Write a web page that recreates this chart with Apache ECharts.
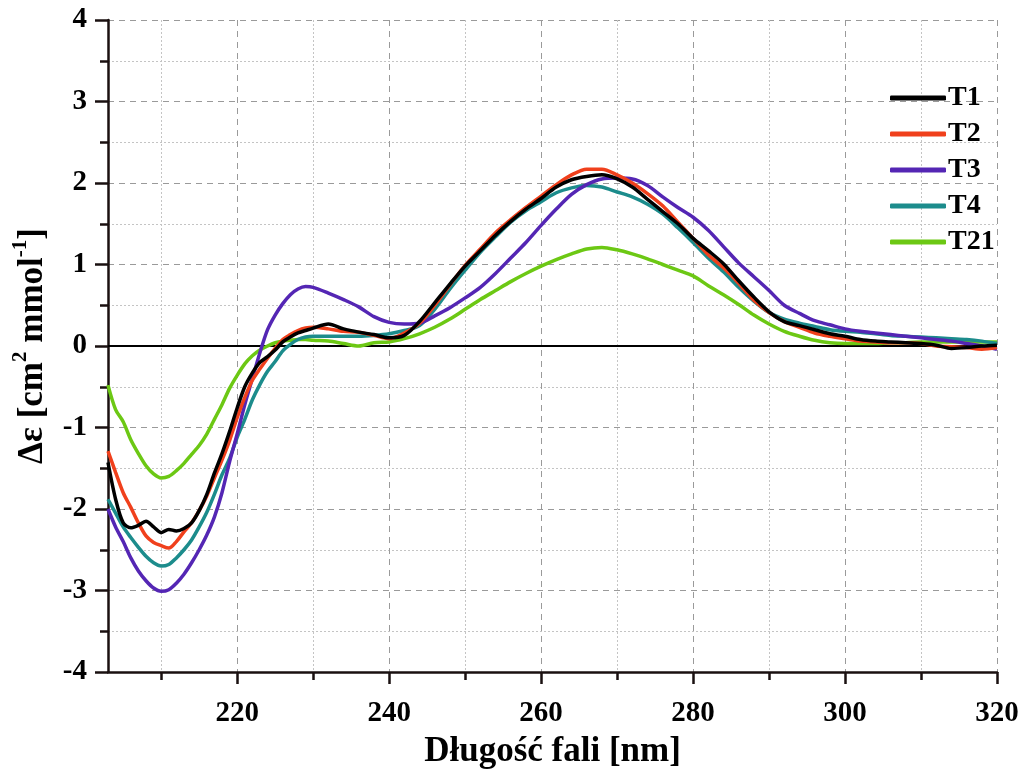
<!DOCTYPE html>
<html>
<head>
<meta charset="utf-8">
<script src="https://cdn.jsdelivr.net/npm/echarts@6/dist/echarts.min.js"></script>
<style>
html,body{margin:0;padding:0;background:#fff;}
#chart{width:1024px;height:769px;}
</style>
</head>
<body>
<div id="chart"></div>
<script>
var wavelength = [203,204,205,206,207,208,209,210,211,212,213,214,215,216,217,218,219,220,221,222,223,224,225,226,227,228,229,
    230,232,234,236,238,240,242,244,246,248,250,252,254,256,258,260,262,264,266,268,270,272,274,276,278,280,
    282,284,286,288,290,292,294,296,298,300,302,304,306,308,310,312,314,316,318,320];

var t1 = [-1.43,-1.88,-2.17,-2.23,-2.2,-2.15,-2.22,-2.29,-2.25,-2.27,-2.24,-2.17,-2.02,-1.82,-1.56,-1.32,-1.05,-0.76,-0.5,-0.33,-0.2,-0.13,-0.05,
    0.05,0.11,0.16,0.19,0.22,0.27,0.21,0.17,0.14,0.1,0.13,0.3,0.53,0.76,0.98,1.17,1.36,1.53,1.68,1.81,1.95,2.04,2.08,2.1,2.05,1.95,1.8,1.65,1.5,1.32,
    1.17,1.01,0.8,0.6,0.42,0.3,0.25,0.2,0.15,0.12,0.08,0.06,0.05,0.04,0.03,0.01,-0.03,-0.02,0.0,0.01];
var t2 = [-1.29,-1.55,-1.8,-1.98,-2.17,-2.33,-2.41,-2.45,-2.48,-2.4,-2.28,-2.17,-2.02,-1.84,-1.62,-1.4,-1.16,-0.88,-0.63,-0.42,-0.28,-0.15,-0.03,
    0.08,0.14,0.19,0.22,0.23,0.21,0.18,0.17,0.13,0.09,0.16,0.28,0.5,0.75,0.99,1.19,1.39,1.55,1.7,1.84,1.98,2.1,2.17,2.17,2.1,2.0,1.87,1.72,1.52,1.32,
    1.12,0.96,0.77,0.56,0.41,0.3,0.23,0.16,0.12,0.09,0.06,0.05,0.04,0.04,0.03,0.0,-0.01,-0.02,-0.04,-0.02];
var t3 = [-2.0,-2.22,-2.4,-2.6,-2.76,-2.88,-2.97,-3.01,-2.99,-2.91,-2.8,-2.66,-2.5,-2.32,-2.1,-1.8,-1.42,-1.08,-0.72,-0.4,-0.08,0.2,0.38,
    0.52,0.63,0.7,0.73,0.72,0.65,0.57,0.48,0.36,0.29,0.27,0.28,0.37,0.47,0.59,0.72,0.89,1.08,1.27,1.48,1.68,1.86,1.98,2.05,2.06,2.05,1.97,1.83,1.7,1.58,
    1.42,1.22,1.02,0.85,0.68,0.5,0.4,0.31,0.26,0.21,0.18,0.16,0.14,0.12,0.1,0.08,0.06,0.03,0.0,-0.04];
var t4 = [-1.88,-2.05,-2.22,-2.35,-2.47,-2.58,-2.66,-2.7,-2.68,-2.6,-2.5,-2.38,-2.22,-2.04,-1.82,-1.58,-1.38,-1.12,-0.9,-0.66,-0.47,-0.31,-0.19,
    -0.06,0.02,0.08,0.11,0.12,0.12,0.12,0.12,0.13,0.15,0.19,0.25,0.45,0.7,0.93,1.15,1.34,1.52,1.66,1.77,1.88,1.94,1.97,1.95,1.89,1.83,1.74,1.62,1.45,1.27,
    1.08,0.91,0.72,0.55,0.41,0.33,0.28,0.24,0.2,0.18,0.17,0.15,0.13,0.12,0.11,0.1,0.09,0.08,0.06,0.03];
var t21 = [-0.48,-0.78,-0.93,-1.15,-1.32,-1.47,-1.57,-1.62,-1.6,-1.53,-1.44,-1.33,-1.22,-1.08,-0.9,-0.72,-0.52,-0.36,-0.22,-0.12,-0.05,0.0,0.04,
    0.06,0.07,0.08,0.08,0.07,0.06,0.03,0.0,0.04,0.05,0.09,0.15,0.23,0.33,0.45,0.57,0.68,0.79,0.89,0.98,1.06,1.13,1.19,1.21,1.18,1.13,1.07,1.0,0.93,0.86,
    0.74,0.63,0.51,0.38,0.27,0.18,0.12,0.07,0.04,0.03,0.03,0.03,0.04,0.04,0.05,0.05,0.05,0.05,0.05,0.05];

var names = ['T1','T2','T3','T4','T21'];
var colors = ['#000000','#f0401c','#5426b4','#1c8c8c','#6cc814'];
var majorX = [220,240,260,280,300,320];
var minorX = [210,230,250,270,290,310];

var serif = 'Liberation Serif';
var axisCol = '#1a1010';

function pairs(vals){
    var out = [];
    for (var i = 0; i < wavelength.length; i++) out.push([wavelength[i], vals[i]]);
    return out;
}

var chart = echarts.init(document.getElementById('chart'));
var allVals = [t1, t2, t3, t4, t21];
var series = [];
for (var i = 0; i < names.length; i++) {
    series.push({
        name: names[i],
        type: 'line',
        xAxisIndex: 0,
        data: pairs(allVals[i]),
        showSymbol: false,
        smooth: 0.3,
        z: 10 - i,
        lineStyle: {color: colors[i], width: 3.5},
        itemStyle: {color: colors[i]}
    });
}
// zero line
series[0].markLine = {
    silent: true,
    symbol: 'none',
    label: {show: false},
    lineStyle: {color: '#000', type: 'solid', width: 2},
    data: [{yAxis: 0}]
};

var option = {
    backgroundColor: '#fff',
    animation: false,
    grid: {left: 108, right: 27, top: 20, bottom: 97, outerBoundsMode: 'none'},
    legend: {
        orient: 'vertical',
        left: 885,
        top: 79,
        icon: 'roundRect',
        itemWidth: 56,
        itemHeight: 5,
        itemGap: 8,
        data: names,
        textStyle: {fontFamily: serif, fontWeight: 'bold', fontSize: 28, color: '#000', lineHeight: 28, padding: [0, 0, 0, -3]}
    },
    xAxis: [{
        type: 'value',
        min: 203,
        max: 320,
        position: 'bottom',
        name: 'Długość fali [nm]',
        nameLocation: 'middle',
        nameGap: 62,
        nameTextStyle: {fontFamily: serif, fontWeight: 'bold', fontSize: 35, color: '#000'},
        axisLine: {onZero: false, lineStyle: {color: axisCol, width: 2.5}},
        axisTick: {inside: false, length: 12, customValues: majorX, lineStyle: {color: axisCol, width: 2.5}},
        axisLabel: {customValues: majorX, margin: 27, fontFamily: serif, fontWeight: 'bold', fontSize: 29, color: '#000'},
        splitLine: {show: true, lineStyle: {color: '#9a9a9a', type: [6, 5], width: 1}}
    }, {
        type: 'value',
        min: 203,
        max: 320,
        position: 'bottom',
        axisLine: {show: false, onZero: false},
        axisTick: {inside: false, length: 8, customValues: minorX, lineStyle: {color: axisCol, width: 2.5}},
        axisLabel: {show: false},
        splitLine: {show: true, lineStyle: {color: '#c4c4c4', type: [2, 2], width: 1}}
    }],
    yAxis: {
        type: 'value',
        min: -4,
        max: 4,
        interval: 1,
        name: '{a|Δε [cm}{s|2}{a| mmol}{s|-1}{a|]}',
        nameLocation: 'middle',
        nameGap: 58,
        nameTextStyle: {
            rich: {
                a: {fontFamily: serif, fontWeight: 'bold', fontSize: 35, color: '#000', lineHeight: 40, verticalAlign: 'bottom'},
                s: {fontFamily: serif, fontWeight: 'bold', fontSize: 21, color: '#000', lineHeight: 40, verticalAlign: 'top'}
            }
        },
        axisLine: {show: true, onZero: false, lineStyle: {color: axisCol, width: 2.5}},
        axisTick: {inside: false, length: 13, lineStyle: {color: axisCol, width: 2.5}},
        minorTick: {show: true, splitNumber: 2, length: 8, lineStyle: {color: axisCol, width: 2.5}},
        axisLabel: {margin: 21, fontFamily: serif, fontWeight: 'bold', fontSize: 29, color: '#000'},
        splitLine: {show: true, lineStyle: {color: '#9a9a9a', type: [6, 5], width: 1}},
        minorSplitLine: {show: true, lineStyle: {color: '#c4c4c4', type: [2, 2], width: 1}}
    },
    series: series
};

chart.setOption(option);
</script>
</body>
</html>
